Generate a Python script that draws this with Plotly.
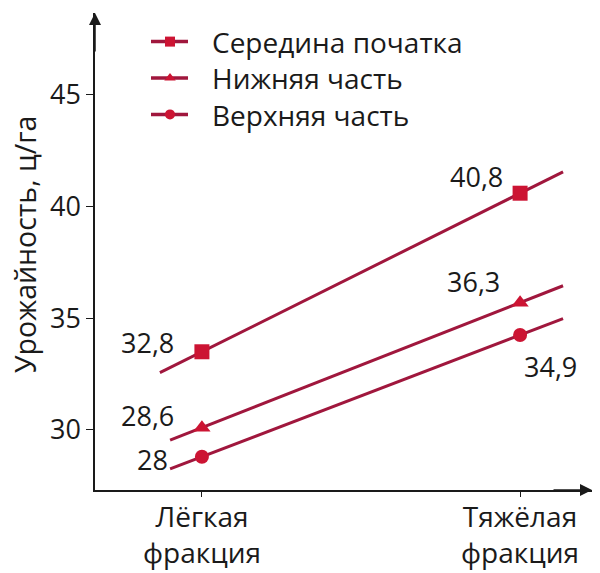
import plotly.graph_objects as go

# Data (marker positions; labels as printed)
categories = ["Лёгкая<br>фракция", "Тяжёлая<br>фракция"]
series_names = ["Середина початка", "Нижняя часть", "Верхняя часть"]
middle = [33.5, 40.6]
lower = [30.1, 35.7]
upper = [28.8, 34.25]
middle_labels = ["32,8", "40,8"]
lower_labels = ["28,6", "36,3"]
upper_labels = ["28", "34,9"]
y_ticks = [30, 35, 40, 45]

LINE = "#a0173d"
MARK = "#cc1433"
TXT = "#1a1a1a"
FONT = "Open Sans"
FS = 27
FSW = 28

series = [
    (series_names[0], middle, middle_labels, "square", 15, -0.132),
    (series_names[1], lower, lower_labels, "triangle-up", 15, -0.10),
    (series_names[2], upper, upper_labels, "circle", 14, -0.10),
]
right_ext = 1.135

fig = go.Figure()
xpos = [0, 1]
for name, vals, labs, sym, sz, lx in series:
    slope = vals[1] - vals[0]
    xs = [lx, right_ext]
    ys = [vals[0] + slope * x for x in xs]
    fig.add_trace(go.Scatter(x=xs, y=ys, mode="lines", line=dict(color=LINE, width=3),
                             showlegend=False, hoverinfo="skip"))
    fig.add_trace(go.Scatter(x=xpos, y=vals, mode="markers", name=name, showlegend=False,
                             marker=dict(symbol=sym, size=sz, color=MARK)))

# label offsets (px) relative to markers
offsets = {
    "32,8": (-54, -9), "40,8": (-44, -17),
    "28,6": (-54, -12), "36,3": (-47, -21),
    "28": (-49, 3), "34,9": (30, 31),
}
for name, vals, labs, sym, sz, lx in series:
    for xi, v, lab in zip(xpos, vals, labs):
        dx, dy = offsets[lab]
        fig.add_annotation(x=xi, y=v, xref="x", yref="y", text=lab, showarrow=False,
                           xanchor="center", yanchor="middle", xshift=dx, yshift=-dy,
                           font=dict(family=FONT, size=FS, color=TXT))

# category labels
for xi, lab in zip(xpos, categories):
    fig.add_annotation(x=xi, xref="x", y=0, yref="paper", yshift=-44, text=lab, showarrow=False,
                       xanchor="center", yanchor="middle",
                       font=dict(family=FONT, size=FSW, color=TXT))

fig.add_annotation(text="Урожайность, ц/га", textangle=-90, xref="paper", yref="paper",
                   x=(25 - 95) / 497, y=(490 - 245) / 477, showarrow=False,
                   xanchor="center", yanchor="middle",
                   font=dict(family=FONT, size=28.5, color=TXT))

# legend drawn on a pixel-scaled overlay axis
LEG_FS = 28
leg_mid = 78
leg_gap = LEG_FS * 1.3
leg_rows = [leg_mid - leg_gap, leg_mid, leg_mid + leg_gap]
leg_x0, leg_x1, leg_xm, leg_tx = 151, 188, 170, 210
for (name, vals, labs, sym, sz, lx), ry in zip(series, leg_rows):
    fig.add_trace(go.Scatter(x=[leg_x0, leg_x1], y=[ry, ry], xaxis="x2", yaxis="y2", mode="lines",
                             line=dict(color=LINE, width=3.5), showlegend=False, hoverinfo="skip"))
    fig.add_trace(go.Scatter(x=[leg_xm], y=[ry], xaxis="x2", yaxis="y2", mode="markers",
                             marker=dict(symbol=sym, size=10, color=MARK), showlegend=False,
                             hoverinfo="skip"))
fig.add_annotation(x=leg_tx, y=leg_mid, xref="x2", yref="y2", text="<br>".join(series_names),
                   showarrow=False, align="left", xanchor="left", yanchor="middle",
                   font=dict(family=FONT, size=LEG_FS, color=TXT))

# axis arrows
fig.add_annotation(xref="paper", yref="paper", x=0, y=1.0, ax=0, ay=40,
                   showarrow=True, arrowhead=2, arrowsize=1.6, arrowwidth=1.5, arrowcolor=TXT, text="")
fig.add_annotation(xref="paper", yref="paper", x=1.0, y=0, ax=-40, ay=0,
                   showarrow=True, arrowhead=2, arrowsize=1.6, arrowwidth=1.5, arrowcolor=TXT, text="")

fig.update_layout(
    width=600, height=573, margin=dict(l=95, r=8, t=13, b=83),
    plot_bgcolor="white", paper_bgcolor="white", showlegend=False,
    font=dict(family=FONT),
    xaxis=dict(range=[-0.336, 1.226], tickvals=xpos, showticklabels=False, automargin=False,
               showline=True, linecolor=TXT, linewidth=1.5, showgrid=False, zeroline=False,
               ticks="outside", ticklen=5, tickcolor=TXT, tickwidth=1),
    yaxis=dict(range=[27.31, 48.67], tickvals=y_ticks, automargin=False, showline=True,
               linecolor=TXT, linewidth=1.5, showgrid=False, zeroline=False,
               ticks="outside", ticklen=7, tickcolor=TXT, tickwidth=1,
               tickfont=dict(family=FONT, size=FS, color=TXT)),
    xaxis2=dict(range=[95, 592], overlaying="x", visible=False, anchor="y2"),
    yaxis2=dict(range=[490, 13], overlaying="y", visible=False, anchor="x2"),
)

fig.write_html("out.html")
